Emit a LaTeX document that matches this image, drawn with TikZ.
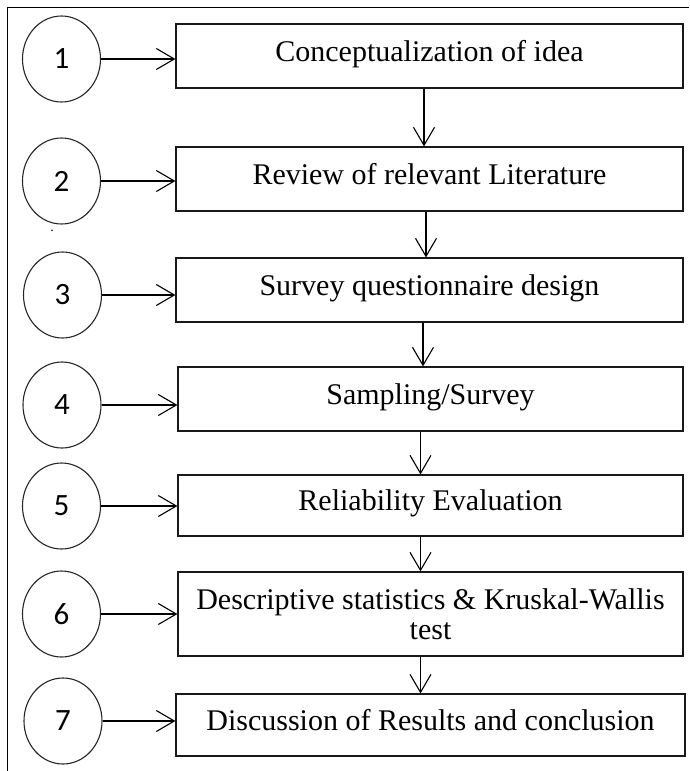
\documentclass[tikz,border=0pt]{standalone}
\usepackage{fontspec}
\setmainfont{Liberation Serif}
\newfontfamily\numfont{Carlito}
\usetikzlibrary{arrows.meta,shapes.geometric}
\begin{document}
\begin{tikzpicture}[x=1pt,y=-1pt,
  stepbox/.style={draw=black!90, line width=1.2pt, inner sep=0pt, minimum width=505pt,
    font=\fontsize{30}{30}\selectfont, align=center, text height=20pt, text depth=10pt},
  numcirc/.style={draw=black!85, line width=1.1pt, ellipse, inner sep=0pt,
    minimum width=78pt, minimum height=86pt, font=\numfont\fontsize{31}{31}\selectfont},
  arr/.style={line width=1.1pt, -{Straight Barb[length=18pt,width=21pt,line width=1.1pt]}},
  frameline/.style={line width=0.9pt}]
\useasboundingbox (0,0) rectangle (689,771);
% frame
\coordinate (ftr) at (689,7);
\coordinate (ftl) at (7,7);
\coordinate (fbl) at (7,771);
\draw[frameline] (ftr) -- (ftl) -- (fbl);
% boxes
\node[stepbox, minimum width=507pt, minimum height=64pt] (b1) at (429.5,56) {Conceptualization of idea};
\node[stepbox, minimum width=507pt, minimum height=64pt] (b2) at (429.5,179) {Review of relevant Literature};
\node[stepbox, minimum width=507pt, minimum height=64pt] (b3) at (429.5,290) {Survey questionnaire design};
\node[stepbox, minimum height=64pt] (b4) at (430.5,399) {Sampling/Survey};
\node[stepbox, minimum height=61pt] (b5) at (430.5,505.5) {Reliability Evaluation};
\node[stepbox, minimum height=84pt, text height=, text depth=] (b6) at (430.5,614) {Descriptive statistics \& Kruskal-Wallis\\test};
\node[stepbox, minimum width=509pt, minimum height=62pt] (b7) at (430.5,725) {Discussion of Results and conclusion};
% circles
\node[numcirc] (c1) at (61.5,59) {1};
\node[numcirc] (c2) at (61.5,181) {2};
\node[numcirc] (c3) at (62.5,295) {3};
\node[numcirc] (c4) at (62,405) {4};
\node[numcirc] (c5) at (61.5,506) {5};
\node[numcirc] (c6) at (61.5,614) {6};
\node[numcirc] (c7) at (63,721) {7};
\node[font=\fontsize{14}{14}\selectfont, inner sep=0pt] (dot) at (52,231) {.};
% horizontal arrows
\foreach \i in {1,...,7}{
  \draw[arr] (c\i.east) -- (c\i.east -| b\i.west);
}
% vertical arrows
\draw[arr] ([xshift=-5.5pt]b1.south) -- ([xshift=-5.5pt]b1.south |- b2.north);
\draw[arr] ([xshift=-3.5pt]b2.south) -- ([xshift=-3.5pt]b2.south |- b3.north);
\draw[arr] ([xshift=-6.5pt]b3.south) -- ([xshift=-6.5pt]b3.south |- b4.north);
\draw[arr] ([xshift=-10pt]b4.south) -- ([xshift=-10pt]b4.south |- b5.north);
\draw[arr] ([xshift=-10pt]b5.south) -- ([xshift=-10pt]b5.south |- b6.north);
\draw[arr] ([xshift=-10pt]b6.south) -- ([xshift=-10pt]b6.south |- b7.north);
\end{tikzpicture}
\end{document}
